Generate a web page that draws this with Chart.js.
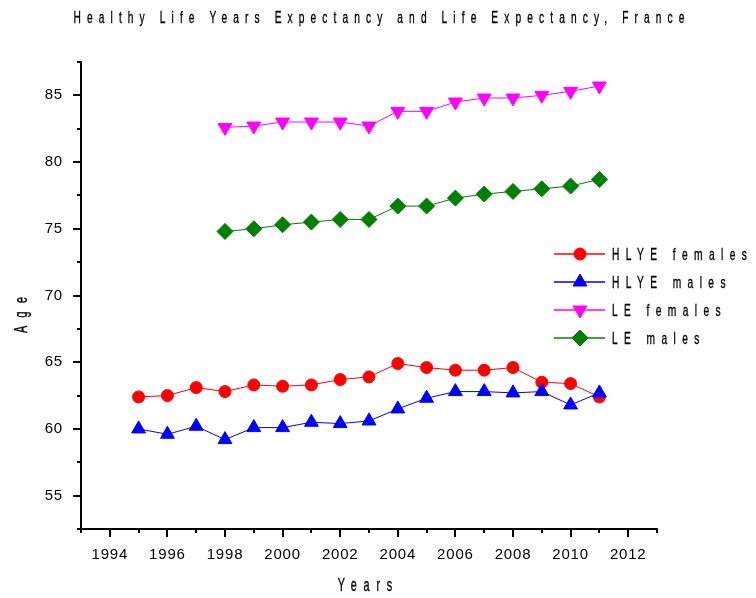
<!DOCTYPE html>
<html>
<head>
<meta charset="utf-8">
<script src="https://cdn.jsdelivr.net/npm/chart.js@4.4.1/dist/chart.umd.min.js"></script>
<style>
  html, body { margin: 0; padding: 0; background: #fff; }
  #wrap { position: relative; width: 756px; height: 598px; }
</style>
</head>
<body>
<div id="wrap"><canvas id="chart" width="756" height="598"></canvas></div>
<script>
const FONT = "'Liberation Sans', Arial, sans-serif";

// data
const years = [1995, 1996, 1997, 1998, 1999, 2000, 2001, 2002, 2003, 2004, 2005, 2006, 2007, 2008, 2009, 2010, 2011];
const hlyeFemales = [62.4, 62.5, 63.1, 62.8, 63.3, 63.2, 63.3, 63.7, 63.9, 64.9, 64.6, 64.4, 64.4, 64.6, 63.5, 63.4, 62.4];
const hlyeMales = [60.0, 59.6, 60.2, 59.2, 60.1, 60.1, 60.5, 60.4, 60.6, 61.5, 62.3, 62.8, 62.8, 62.7, 62.8, 61.8, 62.7];
const leYears = [1998, 1999, 2000, 2001, 2002, 2003, 2004, 2005, 2006, 2007, 2008, 2009, 2010, 2011];
const leFemales = [82.6, 82.7, 83.0, 83.0, 83.0, 82.7, 83.8, 83.8, 84.5, 84.8, 84.8, 85.0, 85.3, 85.7];
const leMales = [74.8, 75.0, 75.3, 75.5, 75.7, 75.7, 76.7, 76.7, 77.3, 77.6, 77.8, 78.0, 78.2, 78.7];

const xTicks = [1994, 1996, 1998, 2000, 2002, 2004, 2006, 2008, 2010, 2012];
const yTicks = [55, 60, 65, 70, 75, 80, 85];

const titleText = 'Healthy Life Years Expectancy and Life Expectancy, France';
const xTitle = 'Years';
const yTitle = 'Age';

const toPoints = (xs, ys) => xs.map((x, i) => ({ x: x, y: ys[i] }));

function setSpacing(ctx, px) {
  if ('letterSpacing' in ctx) ctx.letterSpacing = px + 'px';
}

// narrow, widely spaced text like the original (squeezed horizontally)
function spacedText(ctx, text, x, y, size, spacing, align) {
  const sx = 0.6;
  ctx.save();
  ctx.font = size + 'px ' + FONT;
  setSpacing(ctx, 0);
  const w0 = ctx.measureText(text).width;
  const visible = sx * w0 + spacing * (text.length - 1);
  ctx.translate(x, y);
  ctx.scale(sx, 1);
  setSpacing(ctx, spacing / sx);
  ctx.fillStyle = '#000';
  ctx.strokeStyle = '#000';
  ctx.lineWidth = 0.35;
  ctx.textBaseline = 'middle';
  ctx.textAlign = 'left';
  const start = align === 'center' ? -visible / 2 : 0;
  ctx.fillText(text, start / sx, 0);
  ctx.strokeText(text, start / sx, 0);
  ctx.restore();
}

const decorPlugin = {
  id: 'decor',
  beforeUpdate(chart) { setSpacing(chart.ctx, 0.8); },
  beforeDraw(chart) { setSpacing(chart.ctx, 0.8); },
  afterDraw(chart) {
    const ctx = chart.ctx;
    const xs = chart.scales.x;
    const ys = chart.scales.y;
    const area = chart.chartArea;

    // tick marks, major and minor
    ctx.save();
    ctx.strokeStyle = '#000';
    ctx.lineWidth = 2;
    ctx.beginPath();
    for (let yr = xs.min; yr <= xs.max; yr++) {
      const px = Math.round(xs.getPixelForValue(yr));
      const len = yr % 2 === 0 ? 8 : 4;
      ctx.moveTo(px, area.bottom);
      ctx.lineTo(px, area.bottom + len);
    }
    for (let v = ys.min; v <= ys.max + 0.01; v += 2.5) {
      const py = Math.round(ys.getPixelForValue(v));
      const len = v % 5 === 0 ? 8 : 4;
      ctx.moveTo(area.left, py);
      ctx.lineTo(area.left - len, py);
    }
    ctx.stroke();
    ctx.restore();

    // titles
    spacedText(ctx, titleText, 379, 18.5, 17, 6.1, 'center');
    spacedText(ctx, xTitle, 365, 586, 18, 6.8, 'center');
    ctx.save();
    ctx.translate(22, 315);
    ctx.rotate(-Math.PI / 2);
    spacedText(ctx, yTitle, 0, 0, 18, 8.4, 'center');
    ctx.restore();

    // legend
    chart.data.datasets.forEach((ds, i) => {
      const y = 254 + i * 28;
      ctx.save();
      ctx.strokeStyle = ds.borderColor;
      ctx.fillStyle = ds.backgroundColor;
      ctx.lineWidth = 1.5;
      ctx.beginPath();
      ctx.moveTo(554, y);
      ctx.lineTo(605, y);
      ctx.stroke();
      ctx.lineWidth = 1;
      Chart.helpers.drawPoint(ctx, {
        pointStyle: ds.pointStyle,
        rotation: ds.pointRotation || 0,
        radius: ds.pointRadius,
        borderWidth: 1
      }, 580, y);
      ctx.restore();
      spacedText(ctx, ds.label, 612, y + 1, 17, 6.4, 'left');
    });
  }
};

function series(label, color, data, style, radius, rotation, order) {
  return {
    label: label,
    data: data,
    borderColor: color,
    backgroundColor: color,
    borderWidth: 1,
    pointStyle: style,
    pointRadius: radius,
    pointHoverRadius: radius,
    pointRotation: rotation,
    pointBorderWidth: 1,
    order: order,
    tension: 0
  };
}

new Chart(document.getElementById('chart'), {
  type: 'line',
  data: {
    datasets: [
      series('HLYE females', '#ff0000', toPoints(years, hlyeFemales), 'circle', 6, 0, 3),
      series('HLYE males', '#0000ff', toPoints(years, hlyeMales), 'triangle', 8, 0, 2),
      series('LE females', '#ff00ff', toPoints(leYears, leFemales), 'triangle', 8, 180, 1),
      series('LE males', '#008000', toPoints(leYears, leMales), 'rectRot', 8, 0, 0)
    ]
  },
  options: {
    responsive: false,
    animation: false,
    events: [],
    layout: { padding: { top: 62, right: 99, left: 0, bottom: 0 } },
    plugins: {
      legend: { display: false },
      title: { display: false },
      tooltip: { enabled: false }
    },
    scales: {
      x: {
        type: 'linear',
        min: 1993,
        max: 2013,
        afterFit(scale) { scale.height = 69; },
        afterBuildTicks(scale) {
          scale.ticks = [];
          for (let yr = 1993; yr <= 2013; yr++) scale.ticks.push({ value: yr });
        },
        ticks: {
          autoSkip: false,
          maxRotation: 0,
          padding: 17,
          color: '#000',
          font: { family: FONT, size: 15 },
          callback: (v) => xTicks.includes(v) ? String(v) : ''
        },
        grid: { drawOnChartArea: false, drawTicks: false },
        border: { color: '#000', width: 2 }
      },
      y: {
        min: 52.5,
        max: 87.5,
        afterFit(scale) { scale.width = 81; },
        afterBuildTicks(scale) {
          scale.ticks = [];
          for (let v = 52.5; v <= 87.5; v += 2.5) scale.ticks.push({ value: v });
        },
        ticks: {
          autoSkip: false,
          padding: 18,
          color: '#000',
          font: { family: FONT, size: 15 },
          callback: (v) => yTicks.includes(v) ? String(v) : ''
        },
        grid: { drawOnChartArea: false, drawTicks: false },
        border: { color: '#000', width: 2 }
      }
    }
  },
  plugins: [decorPlugin]
});
</script>
</body>
</html>
